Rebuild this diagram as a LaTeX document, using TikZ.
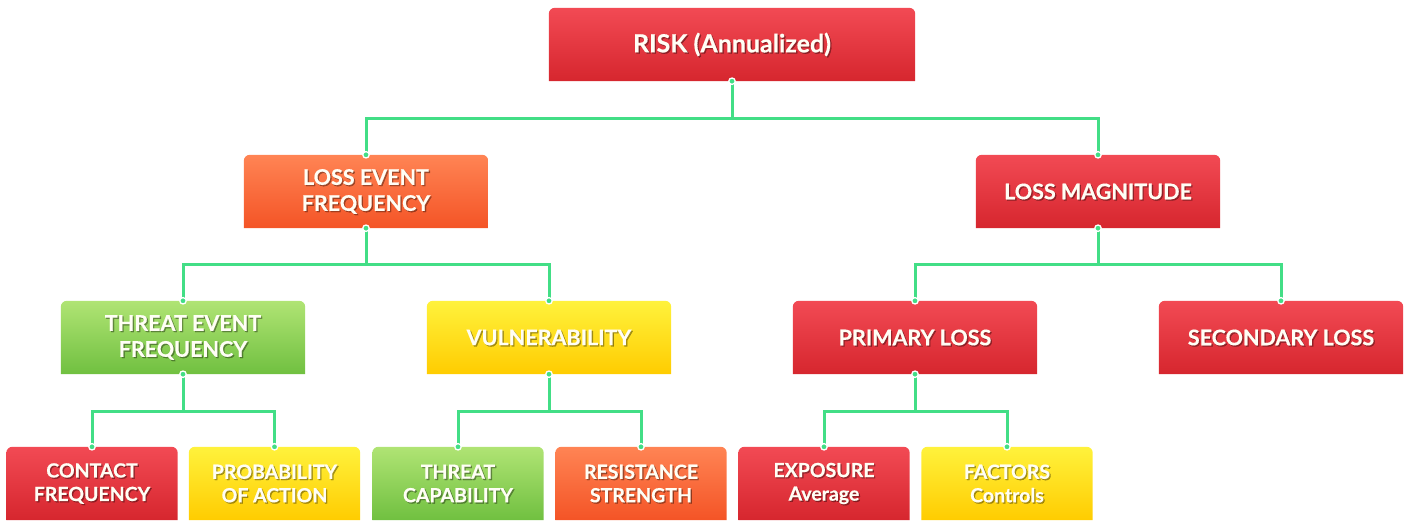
\documentclass[tikz,border=0pt]{standalone}
\usepackage{fontspec}
\setmainfont{Lato}[BoldFeatures={FakeBold=0.5}]
\usetikzlibrary{backgrounds}
\definecolor{redT}{RGB}{242,74,84}
\definecolor{redB}{RGB}{214,38,46}
\definecolor{orgT}{RGB}{255,132,84}
\definecolor{orgB}{RGB}{244,84,38}
\definecolor{grnT}{RGB}{176,228,116}
\definecolor{grnB}{RGB}{112,192,64}
\definecolor{ylwT}{RGB}{255,242,60}
\definecolor{ylwB}{RGB}{255,204,0}
\definecolor{connc}{RGB}{66,222,134}
\tikzset{
  lbl/.style={text=white!96!yellow, align=center, inner sep=0pt, minimum height=73pt},
  shadowlbl/.style={text=black, text opacity=0.35, align=center, inner sep=0pt},
  fzero/.style={font=\bfseries\fontsize{25}{29}\selectfont},
  fone/.style={font=\bfseries\fontsize{21.5}{26}\selectfont},
  ftwo/.style={font=\bfseries\fontsize{19.5}{23.5}\selectfont},
  conn/.style={draw=connc, line width=3pt},
  dotst/.style={fill=connc, draw=white, line width=1.3pt}
}
\newcommand\riskbox[7]{%
  \node[shadowlbl,#6] (#1-sh) at (#2+1.3,#3-1.3) {#7};
  \node[lbl,#6,minimum width=#4] (#1) at (#2,#3) {#7};
  \begin{scope}[on background layer]
    \shade[top color=#5T,bottom color=#5B] (#1.south west) -- ([yshift=-6pt]#1.north west)
      arc[start angle=180,end angle=90,radius=6pt] -- ([xshift=-6pt]#1.north east)
      arc[start angle=90,end angle=0,radius=6pt] -- (#1.south east) -- cycle;
  \end{scope}}
\begin{document}
\begin{tikzpicture}[x=1pt,y=1pt]
\useasboundingbox (0,0) rectangle (1408,520);
\riskbox{risk}{732}{475.5}{366}{red}{fzero}{RISK (Annualized)}
\riskbox{lef}{366}{328.5}{244}{org}{fone}{LOSS EVENT\\FREQUENCY}
\riskbox{lm}{1098}{328.5}{244}{red}{fone}{LOSS MAGNITUDE}
\riskbox{tef}{183}{182.5}{244}{grn}{fone}{THREAT EVENT\\FREQUENCY}
\riskbox{vul}{549}{182.5}{244}{ylw}{fone}{VULNERABILITY}
\riskbox{pl}{915}{182.5}{244}{red}{fone}{PRIMARY LOSS}
\riskbox{sl}{1281}{182.5}{244}{red}{fone}{SECONDARY LOSS}
\riskbox{cf}{92}{36.5}{171}{red}{ftwo}{CONTACT\\FREQUENCY}
\riskbox{poa}{274.5}{36.5}{171}{ylw}{ftwo}{PROBABILITY\\OF ACTION}
\riskbox{tc}{458}{36.5}{171}{grn}{ftwo}{THREAT\\CAPABILITY}
\riskbox{rs}{641}{36.5}{171}{org}{ftwo}{RESISTANCE\\STRENGTH}
\riskbox{exp}{824}{36.5}{171}{red}{ftwo}{EXPOSURE\\Average}
\riskbox{fac}{1007}{36.5}{171}{ylw}{ftwo}{FACTORS\\Controls}
\draw[conn] (risk.south) -- ++(0,-37) -| (lef.north);
\draw[conn] (risk.south) -- ++(0,-37) -| (lm.north);
\draw[conn] (lef.south) -- ++(0,-36) -| (tef.north);
\draw[conn] (lef.south) -- ++(0,-36) -| (vul.north);
\draw[conn] (lm.south) -- ++(0,-36) -| (pl.north);
\draw[conn] (lm.south) -- ++(0,-36) -| (sl.north);
\draw[conn] (tef.south) -- ++(0,-37) -| (cf.north);
\draw[conn] (tef.south) -- ++(0,-37) -| (poa.north);
\draw[conn] (vul.south) -- ++(0,-37) -| (tc.north);
\draw[conn] (vul.south) -- ++(0,-37) -| (rs.north);
\draw[conn] (pl.south) -- ++(0,-37) -| (exp.north);
\draw[conn] (pl.south) -- ++(0,-37) -| (fac.north);
\foreach \p in {risk.south,lef.north,lm.north,lef.south,lm.south,tef.north,vul.north,pl.north,sl.north,tef.south,vul.south,pl.south,cf.north,poa.north,tc.north,rs.north,exp.north,fac.north}
  \filldraw[dotst] (\p) circle (3.2pt);
\end{tikzpicture}
\end{document}
